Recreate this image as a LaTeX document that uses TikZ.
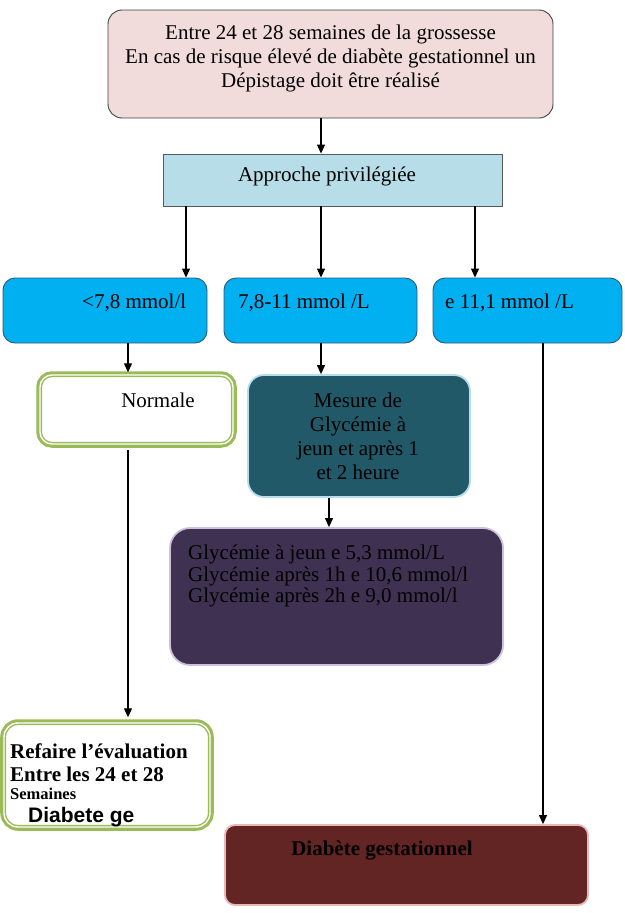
\documentclass[tikz,border=0pt]{standalone}
\usepackage{fontspec}
\setmainfont{Liberation Serif}
\newfontfamily\arialfont{Liberation Sans}
\usetikzlibrary{arrows.meta}

\definecolor{pinkfill}{HTML}{F2DCDB}
\definecolor{lightblue}{HTML}{B7DEE8}
\definecolor{cyanfill}{HTML}{00B0F0}
\definecolor{cyanline}{HTML}{2E5A78}
\definecolor{olive}{HTML}{9BBB59}
\definecolor{tealfill}{HTML}{215968}
\definecolor{purplefill}{HTML}{3F3151}
\definecolor{purpleline}{HTML}{CCC0DA}
\definecolor{redfill}{HTML}{632523}
\definecolor{redline}{HTML}{E6B9B8}

\tikzset{
  box/.style={rounded corners=12pt, inner sep=0pt, line width=0.9pt},
  lbl/.style={inner sep=0pt, font=\fontsize{21}{24}\selectfont},
  arr/.style={-{Triangle[width=8pt,length=9pt]}, line width=1.1pt},
  greenbox/.style={box, draw=olive, fill=white, line width=1.4pt, double=white, double distance=1.4pt,
    preaction={draw=olive, line width=7.5pt}},
}

\begin{document}
\begin{tikzpicture}[x=1pt,y=-1pt]
    \useasboundingbox (0,0) rectangle (624,913);
    % boxes
    \node[box, draw=black!75, fill=pinkfill, rounded corners=14pt, minimum width=445pt, minimum height=108pt] (top) at (330.5,64) {};
    \node[box, draw=black!65, fill=lightblue, rounded corners=0pt, minimum width=339pt, minimum height=52pt] (appr) at (332.5,180) {};
    \node[box, draw=cyanline, fill=cyanfill, minimum width=204pt, minimum height=65pt] (lo) at (105,310.5) {};
    \node[box, draw=cyanline, fill=cyanfill, minimum width=193pt, minimum height=65pt] (mid) at (320.5,310.5) {};
    \node[box, draw=cyanline, fill=cyanfill, minimum width=189pt, minimum height=65pt] (hi) at (527.5,310.5) {};
    \node[greenbox, minimum width=193pt, minimum height=69pt] (nrm) at (136.5,409.5) {};
    \node[box, draw=lightblue, fill=tealfill, line width=1.8pt, rounded corners=16pt, minimum width=222pt, minimum height=122pt] (mes) at (359,436) {};
    \node[box, draw=purpleline, fill=purplefill, line width=1.8pt, rounded corners=20pt, minimum width=333pt, minimum height=137pt] (gly) at (336.5,596.5) {};
    \node[greenbox, rounded corners=14pt, minimum width=206pt, minimum height=104pt] (ref) at (107,775) {};
    \node[box, draw=redline, fill=redfill, line width=1.8pt, rounded corners=10pt, minimum width=363pt, minimum height=80pt] (dg) at (406.5,865) {};

    % texts
    \node[lbl, align=center] (toptxt) at (330.5,58) {Entre 24 et 28 semaines de la grossesse\\En cas de risque élevé de diabète gestationnel un\\Dépistage doit être réalisé};
    \node[lbl] (apprtxt) at (327,176) {Approche privilégiée};
    \node[lbl, anchor=base west] (lotxt) at (82,308) {<7,8 mmol/l};
    \node[lbl, anchor=base west] (midtxt) at (238,308) {7,8-11 mmol /L};
    \node[lbl, anchor=base west] (hitxt) at (445,308) {e 11,1 mmol /L};
    \node[lbl, anchor=base] (nrmtxt) at (158,407) {Normale};
    \node[lbl, align=center] (mestxt) at (358,436) {Mesure de\\Glycémie à\\jeun et après 1\\et 2 heure};
    \node[lbl, anchor=north west, align=left, font=\fontsize{21}{21.5}\selectfont] (glytxt) at (188,545) {Glycémie à jeun e 5,3 mmol/L\\Glycémie après 1h e 10,6 mmol/l\\Glycémie après 2h e 9,0 mmol/l};
    \node[lbl, anchor=base west, font=\fontsize{21}{24}\bfseries] (reftxt1) at (10,758) {Refaire l’évaluation};
    \node[lbl, anchor=base west, font=\fontsize{21}{24}\bfseries] (reftxt2) at (10,781) {Entre les 24 et 28};
    \node[lbl, anchor=base west, font=\fontsize{16.5}{18}\bfseries] (reftxt3) at (10,799) {Semaines};
    \node[lbl, anchor=base west, font=\fontsize{21}{24}\arialfont\bfseries] (reftxt4) at (28,822) {Diabete ge};
    \node[lbl, anchor=base, font=\fontsize{21}{24}\bfseries] (dgtxt) at (382,855) {Diabète gestationnel};

    % columns of the connectors
    \coordinate (c1) at (128,0);
    \coordinate (c2) at (186,0);
    \coordinate (c3) at (321,0);
    \coordinate (c4) at (475,0);
    \coordinate (c5) at (329,0);
    \coordinate (c6) at (543,0);

    % arrows
    \draw[arr] (top.south -| c3) -- (appr.north -| c3);
    \draw[arr] (appr.south -| c2) -- (lo.north -| c2);
    \draw[arr] (appr.south -| c3) -- (mid.north -| c3);
    \draw[arr] (appr.south -| c4) -- (hi.north -| c4);
    \draw[arr] (lo.south -| c1) -- ([yshift=2pt]nrm.north -| c1);
    \draw[arr] (mid.south -| c3) -- (mes.north -| c3);
    \draw[arr] (mes.south -| c5) -- (gly.north -| c5);
    \draw[arr] ([yshift=-5pt]nrm.south -| c1) -- ([yshift=5pt]ref.north -| c1);
    \draw[arr] (hi.south -| c6) -- (dg.north -| c6);
\end{tikzpicture}
\end{document}
